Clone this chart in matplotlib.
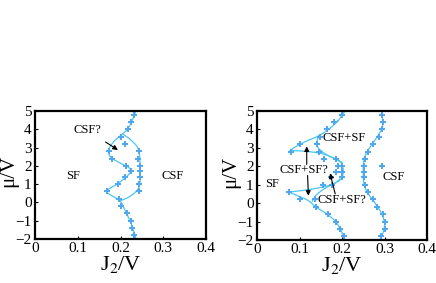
import numpy as np
import matplotlib
matplotlib.use('Agg')
import matplotlib.pyplot as plt

plt.rcParams['font.family'] = ['Liberation Serif', 'DejaVu Serif']
plt.rcParams['mathtext.fontset'] = 'stix'

PT_COLOR = '#52a8ee'
LN_COLOR = '#4cc6f0'

# ---- left panel: points ----
a_mu = [4.8, 4.4, 4.0, 3.6, 3.2, 2.8, 2.4, 2.0, 1.7, 1.4, 1.0, 0.6, 0.2, -0.2, -0.6, -1.0, -1.4, -1.8]
a_j2 = [0.232, 0.224, 0.217, 0.200, 0.210, 0.172, 0.180, 0.214, 0.224, 0.211, 0.193, 0.169, 0.196, 0.200, 0.216, 0.225, 0.228, 0.232]
b_mu = [2.8, 2.4, 2.0, 1.7, 1.4, 1.0, 0.6]
b_j2 = [0.244, 0.242, 0.245, 0.245, 0.245, 0.244, 0.244]

# ---- left panel: boundary lines (control points) ----
l1_j2 = [0.236, 0.226, 0.216, 0.205, 0.185, 0.172, 0.178, 0.200, 0.222, 0.220, 0.195, 0.168, 0.185, 0.200, 0.210, 0.222, 0.230, 0.236]
l1_mu = [5.0, 4.4, 4.0, 3.75, 3.35, 2.85, 2.45, 2.15, 1.85, 1.55, 1.05, 0.62, 0.30, 0.05, -0.4, -1.0, -1.5, -2.0]
l2_j2 = [0.205, 0.225, 0.242, 0.246, 0.246, 0.240, 0.220, 0.200]
l2_mu = [3.75, 3.4, 2.9, 2.0, 1.2, 0.7, 0.3, 0.1]

# ---- right panel: points ----
c_mu = [4.8, 4.4, 4.0, 3.6, 3.2, 3.2, 2.8, 2.8, 2.4, 2.4, 2.0, 2.0, 1.7, 1.7, 1.4, 1.4, 1.0, 1.0,
        0.6, 0.2, 0.2, -0.2, -0.6, -1.0, -1.4, -1.8]
c_j2 = [0.200, 0.180, 0.165, 0.148, 0.100, 0.140, 0.080, 0.145, 0.158, 0.185, 0.190, 0.200, 0.200, 0.185,
        0.200, 0.175, 0.176, 0.155, 0.076, 0.100, 0.136, 0.138, 0.168, 0.187, 0.195, 0.205]
d_mu = [4.8, 4.4, 4.0, 3.6, 3.2, 2.8, 2.4, 2.0, 1.7, 1.4, 1.0, 0.6, 0.2, -0.2, -0.6, -1.0, -1.4, -1.8]
d_j2 = [0.293, 0.296, 0.295, 0.288, 0.274, 0.262, 0.253, 0.252, 0.252, 0.252, 0.253, 0.262, 0.272, 0.282, 0.296, 0.300, 0.300, 0.291]
e_mu = [2.0]
e_j2 = [0.293]

# ---- right panel: boundary lines (control points) ----
r_lines = [
    ([0.207, 0.190, 0.168, 0.145, 0.115, 0.090, 0.078], [5.0, 4.45, 4.0, 3.65, 3.35, 3.05, 2.85]),
    ([0.078, 0.110, 0.150, 0.180, 0.198], [2.85, 2.82, 2.70, 2.45, 2.20]),
    ([0.145, 0.140, 0.150, 0.170, 0.190, 0.200], [3.65, 3.20, 2.85, 2.55, 2.35, 2.20]),
    ([0.198, 0.203, 0.200, 0.190], [2.20, 1.80, 1.40, 1.15]),
    ([0.076, 0.110, 0.150, 0.180, 0.195], [0.60, 0.70, 0.85, 1.05, 1.30]),
    ([0.130, 0.140, 0.160, 0.185], [0.10, 0.45, 0.80, 1.10]),
    ([0.076, 0.095, 0.120, 0.138, 0.165, 0.185, 0.198, 0.207], [0.60, 0.40, 0.15, -0.2, -0.6, -1.0, -1.5, -2.0]),
    ([0.293, 0.296, 0.293, 0.280, 0.262, 0.252, 0.250, 0.252, 0.262, 0.278, 0.294, 0.300, 0.298, 0.290],
     [5.0, 4.4, 4.0, 3.5, 2.9, 2.4, 1.7, 1.0, 0.5, 0.0, -0.6, -1.1, -1.5, -2.0]),
]


def smooth(xs, ys, n=20):
    # Catmull-Rom through the control points
    p = np.column_stack([xs, ys]).astype(float)
    p = np.vstack([2 * p[0] - p[1], p, 2 * p[-1] - p[-2]])
    t = np.linspace(0, 1, n)[:, None]
    out = []
    for i in range(1, len(p) - 2):
        p0, p1, p2, p3 = p[i - 1], p[i], p[i + 1], p[i + 2]
        seg = 0.5 * ((2 * p1) + (-p0 + p2) * t + (2 * p0 - 5 * p1 + 4 * p2 - p3) * t ** 2
                     + (-p0 + 3 * p1 - 3 * p2 + p3) * t ** 3)
        out.append(seg)
    out = np.vstack(out)
    return out[:, 0], out[:, 1]


def style(ax, w):
    ax.set_xlim(0, 0.4)
    ax.set_ylim(-2, 5)
    ax.set_xticks([0, 0.1, 0.2, 0.3, 0.4])
    ax.set_xticklabels(['0', '0.1', '0.2', '0.3', '0.4'])
    ax.set_yticks(range(-2, 6))
    ax.tick_params(direction='in', length=2.5, width=0.8, labelsize=11, pad=2.5,
                   top=False, right=False)
    for s in ax.spines.values():
        s.set_linewidth(1.6)
    ax.set_xlabel(r'J$_2$/V', fontsize=16, labelpad=-1)
    ax.set_ylabel('μ/V', fontsize=15, va='center')
    # label centre about 26 px left of the frame
    ax.yaxis.set_label_coords(-26 / w, 0.53)


fig = plt.figure(figsize=(4.36, 2.83), dpi=100)
ax1 = fig.add_axes([35 / 436, 1 - 239 / 283, 171 / 436, 128 / 283])
ax2 = fig.add_axes([257 / 436, 1 - 240 / 283, 170 / 436, 129 / 283])

MS = 5.0
for xs, ys in [(l1_j2, l1_mu), (l2_j2, l2_mu)]:
    sx, sy = smooth(xs, ys)
    ax1.plot(sx, sy, color=LN_COLOR, lw=0.9)
ax1.plot(a_j2, a_mu, 'P', color=PT_COLOR, ms=MS, mew=0)
ax1.plot(b_j2, b_mu, 'P', color=PT_COLOR, ms=MS, mew=0)
ax1.text(0.088, 1.45, 'SF', fontsize=9, ha='center', va='center')
ax1.text(0.322, 1.45, 'CSF', fontsize=9, ha='center', va='center')
ax1.annotate('CSF?', xy=(0.194, 2.87), xytext=(0.122, 3.95), fontsize=9,
             ha='center', va='center',
             arrowprops=dict(arrowstyle='-|>', color='black', lw=0.8,
                             mutation_scale=7, shrinkA=4, shrinkB=0))
style(ax1, 171)

for xs, ys in r_lines:
    sx, sy = smooth(xs, ys)
    ax2.plot(sx, sy, color=LN_COLOR, lw=0.9)
ax2.plot(c_j2, c_mu, 'P', color=PT_COLOR, ms=MS, mew=0)
ax2.plot(d_j2, d_mu, 'P', color=PT_COLOR, ms=MS, mew=0)
ax2.plot(e_j2, e_mu, 'P', color=PT_COLOR, ms=MS, mew=0)
ax2.text(0.035, 1.05, 'SF', fontsize=9, ha='center', va='center')
ax2.text(0.322, 1.43, 'CSF', fontsize=9, ha='center', va='center')
ax2.text(0.205, 3.55, 'CSF+SF', fontsize=9, ha='center', va='center')
ax2.text(0.11, 1.8, 'CSF+SF?', fontsize=9, ha='center', va='center')
ax2.text(0.2, 0.15, 'CSF+SF?', fontsize=9, ha='center', va='center')
arw = dict(arrowstyle='-|>', color='black', lw=0.8, mutation_scale=7, shrinkA=0, shrinkB=0)
ax2.annotate('', xy=(0.117, 3.08), xytext=(0.117, 2.1), arrowprops=arw)
ax2.annotate('', xy=(0.121, 0.4), xytext=(0.119, 1.5), arrowprops=arw)
ax2.annotate('', xy=(0.172, 1.62), xytext=(0.184, 0.5), arrowprops=arw)
style(ax2, 170)

fig.savefig('out.png', dpi=100)
